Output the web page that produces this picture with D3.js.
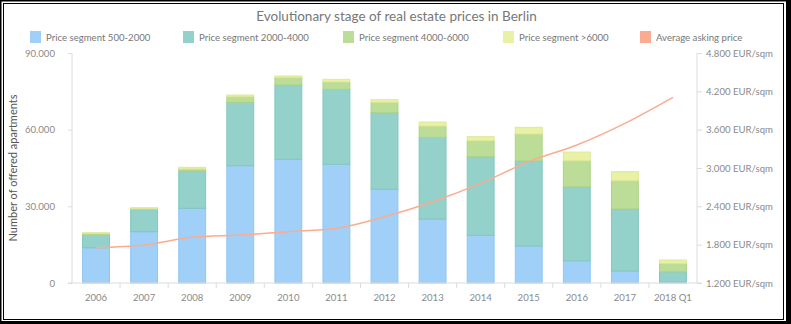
<!DOCTYPE html>
<html><head><meta charset="utf-8">
<script src="https://cdn.jsdelivr.net/npm/d3@7"></script>
<style>
html,body{margin:0;padding:0;background:#fff;}
svg{display:block;font-family:Lato,"Open Sans",sans-serif;}
</style></head>
<body>
<svg id="c" width="791" height="324"></svg>
<script>
const categories = ["2006","2007","2008","2009","2010","2011","2012","2013","2014","2015","2016","2017","2018 Q1"];
const seg500_2000  = [13800,20080,29230,45900,48400,46450,36700,25000,18650,14500,8700,4700,400];
const seg2000_4000 = [5250,8750,14600,24800,29080,29340,29940,32000,30770,33240,28960,24260,4020];
const seg4000_6000 = [250,200,800,2200,2860,2860,4060,4420,6260,10560,10170,11070,3290];
const segOver6000  = [400,440,640,660,660,1050,1030,1570,1570,2620,3400,3520,1290];
const avgPrice     = [1753,1795,1915,1951,2003,2056,2238,2473,2760,3099,3360,3699,4107];
const seriesNames  = ["Price segment 500-2000","Price segment 2000-4000","Price segment 4000-6000","Price segment >6000","Average asking price"];
const leftTicks  = [0,30000,60000,90000];
const rightTicks = [1200,1800,2400,3000,3600,4200,4800];

const colors = ["#a0cff8","#93d1ca","#bcdd97","#e9f1a5","#fbab90"];
const strokes = ["#8fc6f4","#82c7bf","#aed387","#dde896","#fba98e"];

(function(){
const svg = d3.select("#c");
const W = 791, H = 324;
svg.append("rect").attr("x",0).attr("y",0).attr("width",W).attr("height",H).attr("fill","#000");
svg.append("rect").attr("x",1.5).attr("y",1.5).attr("width",784.5).attr("height",319.5).attr("fill","#fff");
svg.append("rect").attr("x",3.5).attr("y",3.5).attr("width",780).attr("height",316).attr("fill","none").attr("stroke","#000").attr("stroke-width",1);

const pL = 72, pR = 697, pT = 53, pB = 283;
const x = d3.scaleBand().domain(categories).range([pL,pR]).paddingInner(0.42).paddingOuter(0.21);
const yL = d3.scaleLinear().domain([0,90000]).range([pB,pT]);
const yR = d3.scaleLinear().domain([1200,4800]).range([pB,pT]);
const de = d3.formatLocale({decimal:",",thousands:".",grouping:[3],currency:["","€"]});
const fmt = de.format(",.0f");

svg.append("text").attr("x",W/2+1).attr("y",21).attr("text-anchor","middle")
  .attr("font-size",13.5).attr("fill","#777").text("Evolutionary stage of real estate prices in Berlin");

const legendX = [30,183,343,503,640];
seriesNames.forEach((n,i)=>{
  const g = svg.append("g").attr("transform",`translate(${legendX[i]},31)`);
  g.append("rect").attr("width",11).attr("height",12).attr("fill",colors[i]);
  g.append("text").attr("x",16).attr("y",10).attr("font-size",9.6).attr("fill","#777").text(n);
});

const rows = categories.map((c,i)=>({cat:c,s0:seg500_2000[i],s1:seg2000_4000[i],s2:seg4000_6000[i],s3:segOver6000[i]}));
const stack = d3.stack().keys(["s0","s1","s2","s3"])(rows);
stack.forEach((layer,k)=>{
  svg.append("g").selectAll("rect").data(layer).join("rect")
    .attr("x",d=>x(d.data.cat)+0.5)
    .attr("width",x.bandwidth()-1)
    .attr("y",d=>yL(d[1]))
    .attr("height",d=>Math.max(0,yL(d[0])-yL(d[1])))
    .attr("fill",colors[k]).attr("stroke",strokes[k]).attr("stroke-width",1);
});

const axisCol = "#dcdcdc";
const lab = "#8a8a8a";
const gl = svg.append("g").attr("transform",`translate(${pL},0)`)
  .call(d3.axisLeft(yL).tickValues(leftTicks).tickFormat(fmt).tickSize(4).tickPadding(13));
const gr = svg.append("g").attr("transform",`translate(${pR},0)`)
  .call(d3.axisRight(yR).tickValues(rightTicks).tickFormat(d=>fmt(d)+" EUR/sqm").tickSize(5).tickPadding(4));
[gl,gr].forEach(g=>{
  g.select(".domain").attr("stroke",axisCol).attr("d",`M0,${pT}V${pB}`);
  g.selectAll(".tick line").attr("stroke",axisCol);
  g.selectAll(".tick text").attr("fill",lab).attr("font-size",9.6).attr("font-family","Lato,'Open Sans',sans-serif");
});
const gx = svg.append("g").attr("transform",`translate(0,${pB})`)
  .call(d3.axisBottom(x).tickSize(0).tickPadding(11));
gx.select(".domain").attr("stroke",axisCol).attr("d",`M${pL-4},0H${pR+5}`);
gx.selectAll(".tick text").attr("fill",lab).attr("font-size",9.6).attr("font-family","Lato,'Open Sans',sans-serif");
const step = x.step();
const bounds = d3.range(1,categories.length).map(i=>x(categories[i]) - x.paddingInner()*step/2);
gx.append("g").selectAll("line").data(bounds).join("line")
  .attr("x1",d=>d).attr("x2",d=>d).attr("y1",0).attr("y2",5).attr("stroke",axisCol);

svg.append("text").attr("transform",`translate(17,${(pT+pB)/2}) rotate(-90)`)
  .attr("text-anchor","middle").attr("font-size",11).attr("fill","#555").text("Number of offered apartments");

const line = d3.line().x((d,i)=>x(categories[i])+x.bandwidth()/2).y(d=>yR(d)).curve(d3.curveMonotoneX);
svg.append("path").datum(avgPrice).attr("d",line).attr("fill","none")
  .attr("stroke",colors[4]).attr("stroke-width",1.5);
})();
</script>
</body></html>
